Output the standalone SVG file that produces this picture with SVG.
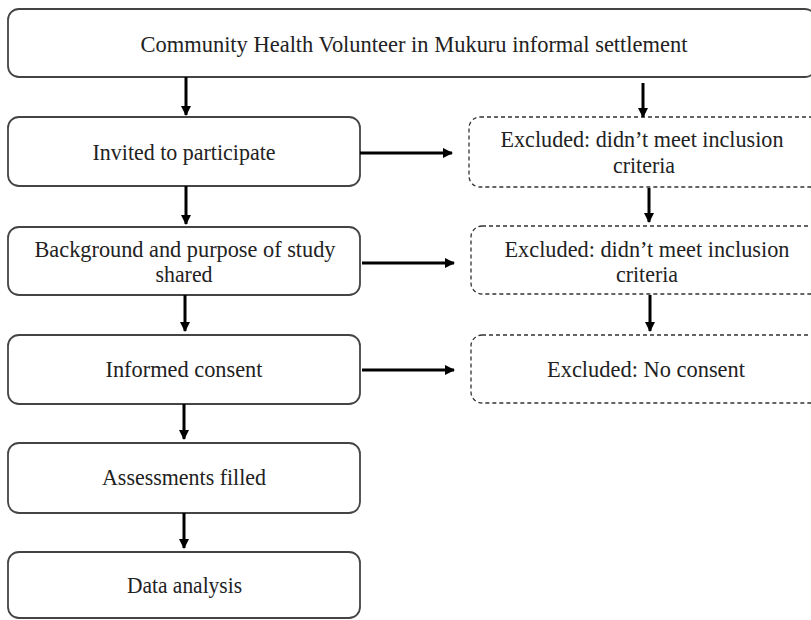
<svg xmlns="http://www.w3.org/2000/svg" width="811" height="620" viewBox="0 0 811 620">
<defs>
<marker id="ah" markerWidth="10" markerHeight="10" refX="9" refY="5" orient="auto" markerUnits="userSpaceOnUse">
<path d="M0,0 L10,5 L0,10 Z" fill="#000"/>
</marker>
<style>
.box{fill:#fff;stroke:#444;stroke-width:1.8}
.dbox{fill:#fff;stroke:#333;stroke-width:1.3;stroke-dasharray:4 3}
.t{font-family:"Liberation Serif","Times New Roman",serif;font-size:23px;fill:#222;text-anchor:middle}
.c{stroke:#000;stroke-width:3;fill:none;marker-end:url(#ah)}
</style>
</defs>
<rect width="811" height="620" fill="#fff"/>
<g id="top">
<rect class="box" x="8" y="9" width="808" height="68" rx="11"/>
<text class="t" x="414" y="52" textLength="547" lengthAdjust="spacingAndGlyphs">Community Health Volunteer in Mukuru informal settlement</text>
</g>
<g id="invited">
<rect class="box" x="8" y="117" width="352" height="69" rx="11"/>
<text class="t" x="184" y="160" textLength="183" lengthAdjust="spacingAndGlyphs">Invited to participate</text>
</g>
<g id="excl1">
<rect class="dbox" x="469" y="117" width="360" height="70" rx="11"/>
<text class="t" x="642" y="147" textLength="283" lengthAdjust="spacingAndGlyphs">Excluded: didn’t meet inclusion</text>
<text class="t" x="644" y="173" textLength="62" lengthAdjust="spacingAndGlyphs">criteria</text>
</g>
<g id="background">
<rect class="box" x="8" y="227" width="352" height="68" rx="11"/>
<text class="t" x="185" y="257" textLength="301" lengthAdjust="spacingAndGlyphs">Background and purpose of study</text>
<text class="t" x="184" y="282" textLength="57" lengthAdjust="spacingAndGlyphs">shared</text>
</g>
<g id="excl2">
<rect class="dbox" x="471" y="226" width="360" height="68" rx="11"/>
<text class="t" x="647" y="257" textLength="285" lengthAdjust="spacingAndGlyphs">Excluded: didn’t meet inclusion</text>
<text class="t" x="647" y="282" textLength="62" lengthAdjust="spacingAndGlyphs">criteria</text>
</g>
<g id="consent">
<rect class="box" x="8" y="335" width="352" height="69" rx="11"/>
<text class="t" x="184" y="377" textLength="157" lengthAdjust="spacingAndGlyphs">Informed consent</text>
</g>
<g id="excl3">
<rect class="dbox" x="471" y="335" width="360" height="68" rx="11"/>
<text class="t" x="646" y="377" textLength="198" lengthAdjust="spacingAndGlyphs">Excluded: No consent</text>
</g>
<g id="assess">
<rect class="box" x="8" y="443" width="352" height="70" rx="11"/>
<text class="t" x="184" y="485" textLength="164" lengthAdjust="spacingAndGlyphs">Assessments  filled</text>
</g>
<g id="data">
<rect class="box" x="8" y="552" width="352" height="66" rx="11"/>
<text class="t" x="184.5" y="593" textLength="115" lengthAdjust="spacingAndGlyphs">Data analysis</text>
</g>
<g id="connectors">
<line class="c" x1="186" y1="77" x2="186" y2="115"/>
<line class="c" x1="643" y1="83" x2="643" y2="117"/>
<line class="c" x1="360" y1="153" x2="452" y2="153"/>
<line class="c" x1="186" y1="186" x2="186" y2="224"/>
<line class="c" x1="649" y1="188" x2="649" y2="222"/>
<line class="c" x1="362" y1="263" x2="454" y2="263"/>
<line class="c" x1="185" y1="295" x2="185" y2="331"/>
<line class="c" x1="650" y1="295" x2="650" y2="331"/>
<line class="c" x1="362" y1="370" x2="454" y2="370"/>
<line class="c" x1="184" y1="404" x2="184" y2="439"/>
<line class="c" x1="184" y1="513" x2="184" y2="548"/>
</g>
</svg>
